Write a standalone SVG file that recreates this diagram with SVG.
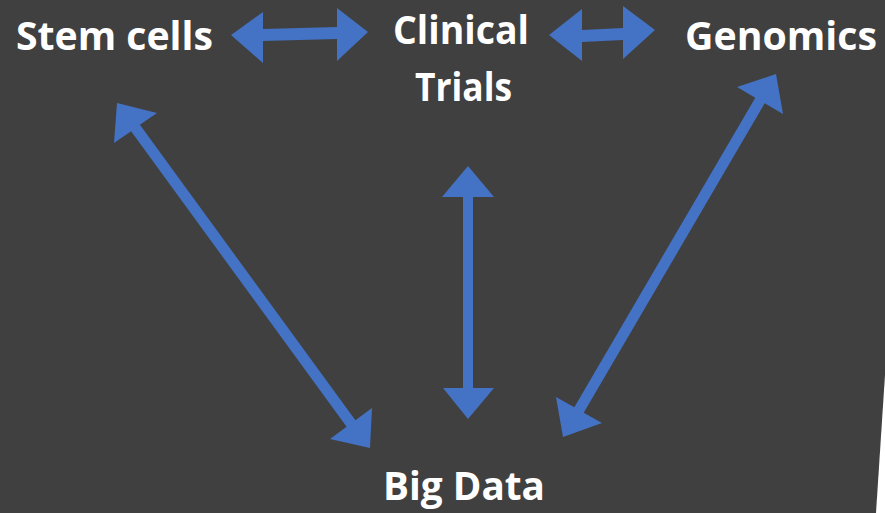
<svg xmlns="http://www.w3.org/2000/svg" width="885" height="513" viewBox="0 0 885 513">
  <style>
    .lbl { font-family: "Open Sans", "Liberation Sans", sans-serif; font-weight: bold; font-size: 40px; fill: #ffffff; }
    .arr { fill: #4472c4; stroke: none; }
  </style>
  <rect x="0" y="0" width="885" height="513" fill="#404040"/>
  <polygon points="885,375 876,513 885,513" fill="#ffffff"/>

  <g id="connectors">
    <polygon class="arr" points="231,35 263,12 263,29 337,27 337,8 368,32 337,61 337,39 263,41 263,63"/>
    <polygon class="arr" points="549,35 582,9 582,30 623,28 623,6 655,30 623,59 623,40 582,42 582,61"/>
    <polygon class="arr" points="117,103 157,113 139.9,124.8 355.4,420.3 372,408 370,448 330,439 346.6,426.8 131.1,131.3 114,143"/>
    <polygon class="arr" points="776,74 783,114 764.7,103.3 583.7,412.8 602,423 563,437 556,397 574.3,407.2 755.3,97.7 737,87"/>
    <polygon class="arr" points="468,166 494,197 473,197 473,388 494,388 468,419 443,388 463,388 463,197 442,197"/>
  </g>

  <g id="stem-cells">
    <text class="lbl" x="16" y="50" textLength="197" lengthAdjust="spacingAndGlyphs">Stem cells</text>
  </g>
  <g id="clinical-trials">
    <text class="lbl" x="393" y="44" textLength="136" lengthAdjust="spacingAndGlyphs">Clinical</text>
    <text class="lbl" x="415" y="101" textLength="97" lengthAdjust="spacingAndGlyphs">Trials</text>
  </g>
  <g id="genomics">
    <text class="lbl" x="685" y="50" textLength="192" lengthAdjust="spacingAndGlyphs">Genomics</text>
  </g>
  <g id="big-data">
    <text class="lbl" x="383" y="500" textLength="162" lengthAdjust="spacingAndGlyphs">Big Data</text>
  </g>
</svg>
